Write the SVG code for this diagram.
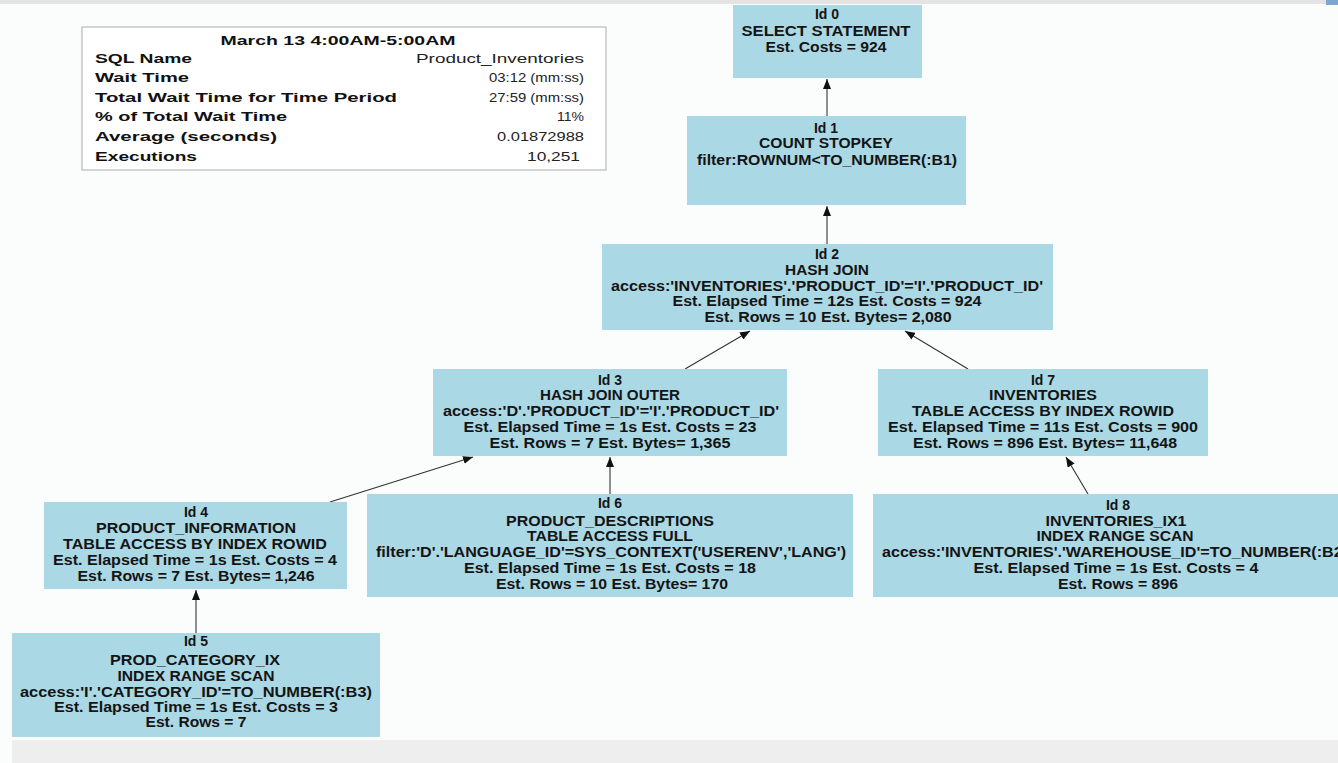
<svg xmlns="http://www.w3.org/2000/svg" width="1338" height="763" viewBox="0 0 1338 763">
<defs>
<style>
.bg{fill:#fbfcfc}
.node rect{fill:#abd8e5;stroke:none}
.node text{font-family:"Liberation Sans",Arial,sans-serif;font-weight:bold;font-size:14px;fill:#141414;text-anchor:middle}
.tb text{font-family:"Liberation Sans",Arial,sans-serif;font-size:13px;fill:#111}
.tb .k{font-weight:bold}
.tb .v{font-weight:normal;text-anchor:end;fill:#222}
.edge line{stroke:#333;stroke-width:1.1;fill:none;marker-end:url(#ah)}
</style>
<marker id="ah" markerWidth="10" markerHeight="8" refX="10" refY="4" orient="auto" markerUnits="userSpaceOnUse">
<path d="M0,0 L10,4 L0,8 z" fill="#111"/>
</marker>
</defs>
<rect class="bg" x="0" y="0" width="1338" height="763"/>
<rect x="0" y="0" width="1338" height="4" fill="#e3e3e3"/>
<rect x="1326" y="0" width="12" height="5" fill="#7ea6cf"/>
<rect x="12" y="740" width="1326" height="23" fill="#eeeeee"/>

<g id="table" class="tb">
<rect x="82" y="27" width="524" height="143" fill="#ffffff" stroke="#aaaaaa" stroke-width="1"/>
<text class="k" x="338" y="45" text-anchor="middle" textLength="235" lengthAdjust="spacingAndGlyphs">March 13 4:00AM-5:00AM</text>
<text class="k" x="95" y="63" textLength="97" lengthAdjust="spacingAndGlyphs">SQL Name</text>
<text class="v" x="584" y="63" textLength="168" lengthAdjust="spacingAndGlyphs">Product_Inventories</text>
<text class="k" x="95" y="82" textLength="94" lengthAdjust="spacingAndGlyphs">Wait Time</text>
<text class="v" x="584" y="82" textLength="95" lengthAdjust="spacingAndGlyphs">03:12 (mm:ss)</text>
<text class="k" x="95" y="102" textLength="302" lengthAdjust="spacingAndGlyphs">Total Wait Time for Time Period</text>
<text class="v" x="584" y="102" textLength="95" lengthAdjust="spacingAndGlyphs">27:59 (mm:ss)</text>
<text class="k" x="95" y="121" textLength="192" lengthAdjust="spacingAndGlyphs">% of Total Wait Time</text>
<text class="v" x="584" y="121" textLength="27" lengthAdjust="spacingAndGlyphs">11%</text>
<text class="k" x="95" y="141" textLength="182" lengthAdjust="spacingAndGlyphs">Average (seconds)</text>
<text class="v" x="584" y="141" textLength="87" lengthAdjust="spacingAndGlyphs">0.01872988</text>
<text class="k" x="95" y="161" textLength="102" lengthAdjust="spacingAndGlyphs">Executions</text>
<text class="v" x="580" y="161" textLength="53" lengthAdjust="spacingAndGlyphs">10,251</text>
</g>

<g id="edges" class="edge">
<line x1="827" y1="116" x2="827" y2="79"/>
<line x1="827" y1="244" x2="827" y2="206"/>
<line x1="685" y1="369" x2="750" y2="331"/>
<line x1="968" y1="369" x2="905" y2="331"/>
<line x1="330" y1="502" x2="473" y2="457"/>
<line x1="610" y1="494" x2="610" y2="457"/>
<line x1="196" y1="633" x2="196" y2="590"/>
<line x1="1088" y1="494" x2="1066" y2="457"/>
</g>

<g id="node0" class="node">
<rect x="733" y="5" width="189" height="73"/>
<text x="827" y="19">Id 0</text>
<text x="826" y="36" textLength="169" lengthAdjust="spacingAndGlyphs">SELECT STATEMENT</text>
<text x="826" y="52" textLength="121" lengthAdjust="spacingAndGlyphs">Est. Costs = 924</text>
</g>

<g id="node1" class="node">
<rect x="687" y="116" width="279" height="89"/>
<text x="826" y="133">Id 1</text>
<text x="826" y="148" textLength="134" lengthAdjust="spacingAndGlyphs">COUNT STOPKEY</text>
<text x="827" y="165" textLength="260" lengthAdjust="spacingAndGlyphs">filter:ROWNUM&lt;TO_NUMBER(:B1)</text>
</g>

<g id="node2" class="node">
<rect x="602" y="244" width="451" height="86"/>
<text x="827" y="259">Id 2</text>
<text x="827" y="275" textLength="84" lengthAdjust="spacingAndGlyphs">HASH JOIN</text>
<text x="827" y="291" textLength="432" lengthAdjust="spacingAndGlyphs">access:'INVENTORIES'.'PRODUCT_ID'='I'.'PRODUCT_ID'</text>
<text x="827" y="306" textLength="309" lengthAdjust="spacingAndGlyphs">Est. Elapsed Time = 12s Est. Costs = 924</text>
<text x="828" y="322" textLength="247" lengthAdjust="spacingAndGlyphs">Est. Rows = 10 Est. Bytes= 2,080</text>
</g>

<g id="node3" class="node">
<rect x="433" y="369" width="354" height="87"/>
<text x="610" y="385">Id 3</text>
<text x="610" y="400" textLength="140" lengthAdjust="spacingAndGlyphs">HASH JOIN OUTER</text>
<text x="611" y="416" textLength="336" lengthAdjust="spacingAndGlyphs">access:'D'.'PRODUCT_ID'='I'.'PRODUCT_ID'</text>
<text x="610" y="432" textLength="293" lengthAdjust="spacingAndGlyphs">Est. Elapsed Time = 1s Est. Costs = 23</text>
<text x="610" y="448" textLength="241" lengthAdjust="spacingAndGlyphs">Est. Rows = 7 Est. Bytes= 1,365</text>
</g>

<g id="node7" class="node">
<rect x="878" y="369" width="330" height="87"/>
<text x="1043" y="385">Id 7</text>
<text x="1043" y="400" textLength="108" lengthAdjust="spacingAndGlyphs">INVENTORIES</text>
<text x="1043" y="416" textLength="262" lengthAdjust="spacingAndGlyphs">TABLE ACCESS BY INDEX ROWID</text>
<text x="1043" y="432" textLength="310" lengthAdjust="spacingAndGlyphs">Est. Elapsed Time = 11s Est. Costs = 900</text>
<text x="1045" y="448" textLength="264" lengthAdjust="spacingAndGlyphs">Est. Rows = 896 Est. Bytes= 11,648</text>
</g>

<g id="node4" class="node">
<rect x="44" y="502" width="303" height="87"/>
<text x="196" y="517">Id 4</text>
<text x="196" y="533" textLength="200" lengthAdjust="spacingAndGlyphs">PRODUCT_INFORMATION</text>
<text x="195" y="549" textLength="264" lengthAdjust="spacingAndGlyphs">TABLE ACCESS BY INDEX ROWID</text>
<text x="195" y="565" textLength="284" lengthAdjust="spacingAndGlyphs">Est. Elapsed Time = 1s Est. Costs = 4</text>
<text x="196" y="581" textLength="237" lengthAdjust="spacingAndGlyphs">Est. Rows = 7 Est. Bytes= 1,246</text>
</g>

<g id="node6" class="node">
<rect x="367" y="494" width="486" height="103"/>
<text x="610" y="508">Id 6</text>
<text x="610" y="526" textLength="208" lengthAdjust="spacingAndGlyphs">PRODUCT_DESCRIPTIONS</text>
<text x="610" y="541" textLength="166" lengthAdjust="spacingAndGlyphs">TABLE ACCESS FULL</text>
<text x="611" y="557" textLength="470" lengthAdjust="spacingAndGlyphs">filter:'D'.'LANGUAGE_ID'=SYS_CONTEXT('USERENV','LANG')</text>
<text x="610" y="573" textLength="292" lengthAdjust="spacingAndGlyphs">Est. Elapsed Time = 1s Est. Costs = 18</text>
<text x="612" y="589" textLength="232" lengthAdjust="spacingAndGlyphs">Est. Rows = 10 Est. Bytes= 170</text>
</g>

<g id="node8" class="node">
<rect x="873" y="494" width="490" height="103"/>
<text x="1118" y="510">Id 8</text>
<text x="1116" y="526" textLength="141" lengthAdjust="spacingAndGlyphs">INVENTORIES_IX1</text>
<text x="1115" y="541" textLength="157" lengthAdjust="spacingAndGlyphs">INDEX RANGE SCAN</text>
<text x="1115" y="557" textLength="466" lengthAdjust="spacingAndGlyphs">access:'INVENTORIES'.'WAREHOUSE_ID'=TO_NUMBER(:B2)</text>
<text x="1116" y="573" textLength="285" lengthAdjust="spacingAndGlyphs">Est. Elapsed Time = 1s Est. Costs = 4</text>
<text x="1118" y="589" textLength="120" lengthAdjust="spacingAndGlyphs">Est. Rows = 896</text>
</g>

<g id="node5" class="node">
<rect x="12" y="633" width="368" height="104"/>
<text x="196" y="646">Id 5</text>
<text x="195" y="665" textLength="170" lengthAdjust="spacingAndGlyphs">PROD_CATEGORY_IX</text>
<text x="196" y="681" textLength="157" lengthAdjust="spacingAndGlyphs">INDEX RANGE SCAN</text>
<text x="196" y="697" textLength="352" lengthAdjust="spacingAndGlyphs">access:'I'.'CATEGORY_ID'=TO_NUMBER(:B3)</text>
<text x="196" y="712" textLength="284" lengthAdjust="spacingAndGlyphs">Est. Elapsed Time = 1s Est. Costs = 3</text>
<text x="196" y="727" textLength="101" lengthAdjust="spacingAndGlyphs">Est. Rows = 7</text>
</g>
</svg>
